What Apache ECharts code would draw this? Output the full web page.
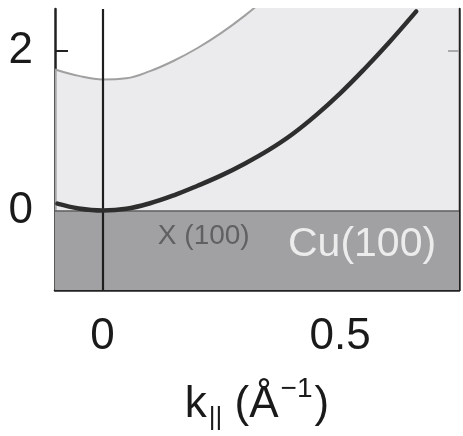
<!DOCTYPE html>
<html>
<head>
<meta charset="utf-8">
<script src="https://cdn.jsdelivr.net/npm/echarts@6/dist/echarts.min.js"></script>
<style>
  html, body { margin: 0; padding: 0; background: #ffffff; }
  #chart { width: 463px; height: 436px; }
</style>
</head>
<body>
<div id="chart"></div>
<script>
// Surface state dispersion E(k||) near the X point of Cu(100)
const stateK = [-0.095, -0.05, 0.0, 0.05, 0.1, 0.15, 0.2, 0.25, 0.3, 0.35, 0.4, 0.45, 0.5, 0.55, 0.6, 0.66];
const stateE = [0.085, 0.025, 0.0, 0.02, 0.09, 0.19, 0.31, 0.44, 0.59, 0.76, 0.96, 1.2, 1.47, 1.77, 2.09, 2.5];

// Upper edge of the projected bulk band (continues above the visible range)
const edgeK = [-0.1, -0.05, 0.0, 0.05, 0.1, 0.15, 0.2, 0.25, 0.3, 0.35, 0.4, 0.5, 0.6, 0.75];
const edgeE = [1.77, 1.69, 1.645, 1.66, 1.75, 1.88, 2.04, 2.23, 2.45, 2.7, 2.97, 3.57, 4.2, 5.2];

// Bulk gap region below the Fermi level
const gapRange = [-1, 0];

// Axis ticks and labels
const xLabelValues = [0, 0.5];
const xTickValues = [0.5];
const yLabelValues = [0, 2];
const yTickValues = [2];

// Region labels
const labelTexts = ['X (100)', 'Cu(100)'];

const font = 'Liberation Sans, Arial, Helvetica, sans-serif';
const zip = (a, b) => a.map((v, i) => [v, b[i]]);

const chart = echarts.init(document.getElementById('chart'));

const yCommon = {
  type: 'value',
  min: -1,
  max: 2.53,
  splitLine: { show: false },
  axisLine: { show: true, onZero: false, lineStyle: { color: '#222', width: 2.5 } }
};

chart.setOption({
  animation: false,
  backgroundColor: '#ffffff',
  grid: { left: 55, right: 4, top: 9, bottom: 141 },
  xAxis: {
    type: 'value',
    min: -0.1,
    max: 0.75,
    splitLine: { show: false },
    axisLine: { show: true, onZero: false, lineStyle: { color: '#222', width: 2.5 } },
    axisTick: { show: true, inside: true, length: 12, customValues: xTickValues, lineStyle: { color: '#222', width: 2 } },
    axisLabel: { customValues: xLabelValues, fontSize: 44, color: '#1a1a1a', fontFamily: font, margin: 25,
      formatter: v => String(v) },
    name: '{k|k}{sub|||}{m| (Å}{sup|\u22121}{m|)}',
    nameLocation: 'middle',
    nameGap: 85,
    nameTextStyle: {
      fontSize: 44, color: '#1a1a1a', fontFamily: font,
      rich: {
        k: { fontSize: 44, color: '#1a1a1a', fontFamily: font },
        sub: { fontSize: 26, color: '#1a1a1a', fontFamily: font, padding: [26, 0, 0, 2] },
        m: { fontSize: 44, color: '#1a1a1a', fontFamily: font },
        sup: { fontSize: 28, color: '#1a1a1a', fontFamily: font, padding: [0, 2, 32, 2] }
      }
    }
  },
  yAxis: [
    Object.assign({}, yCommon, {
      position: 'left',
      axisTick: { show: true, inside: true, length: 13, customValues: yTickValues, lineStyle: { color: '#222', width: 2 } },
      axisLabel: { customValues: yLabelValues, fontSize: 44, color: '#1a1a1a', fontFamily: font, margin: 22 }
    }),
    Object.assign({}, yCommon, {
      position: 'right',
      axisTick: { show: true, inside: true, length: 11, customValues: yTickValues, lineStyle: { color: '#222', width: 2 } },
      axisLabel: { show: false }
    })
  ],
  series: [
    {
      // dark bulk-gap band
      type: 'line',
      data: [],
      z: 1,
      markArea: {
        silent: true,
        itemStyle: { color: '#a1a1a3' },
        data: [[{ yAxis: gapRange[0] }, { yAxis: gapRange[1] }]]
      }
    },
    {
      // projected bulk band edge with filled band region
      type: 'line',
      data: zip(edgeK, edgeE),
      smooth: 0.4,
      symbol: 'none',
      z: 2,
      lineStyle: { color: '#a0a0a0', width: 2 },
      areaStyle: { color: '#e3e3e5', origin: 0 }
    },
    {
      // reference lines at k = 0 and E = 0
      type: 'line',
      data: [],
      z: 3,
      markLine: {
        silent: true,
        symbol: 'none',
        label: { show: false },
        data: [
          { xAxis: 0, lineStyle: { color: '#1e1e1e', width: 2.2, type: 'solid' } },
          { yAxis: 0, lineStyle: { color: '#606060', width: 1.5, type: 'solid' } }
        ]
      }
    },
    {
      // surface state dispersion
      type: 'line',
      data: zip(stateK, stateE),
      smooth: 0.4,
      symbol: 'none',
      z: 5,
      lineStyle: { color: '#2e2e2e', width: 4.5, cap: 'round' }
    },
    {
      // region labels
      type: 'scatter',
      z: 6,
      symbolSize: 1,
      itemStyle: { color: 'rgba(0,0,0,0)' },
      silent: true,
      data: [
        { value: [0.213, -0.33], name: labelTexts[0],
          label: { show: true, position: 'inside', formatter: '{b}', fontSize: 28, color: '#505052', fontFamily: font } },
        { value: [0.546, -0.43], name: labelTexts[1],
          label: { show: true, position: 'inside', formatter: '{b}', fontSize: 41, color: '#ffffff', fontFamily: font } }
      ]
    }
  ]
});
</script>
</body>
</html>
